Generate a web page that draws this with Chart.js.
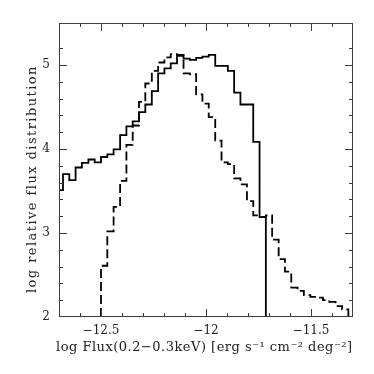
<!DOCTYPE html>
<html>
<head>
<meta charset="utf-8">
<script src="https://cdn.jsdelivr.net/npm/chart.js@4.4.1/dist/chart.umd.min.js"></script>
<style>
  html, body { margin: 0; padding: 0; background: #fff; }
  #wrap { width: 374px; height: 374px; }
</style>
</head>
<body>
<div id="wrap"><canvas id="chart" width="374" height="374"></canvas></div>
<script>
// bin edges in log flux, from the partly hidden first bin to the end of the dashed histogram
const binEdges = [
  -12.711, -12.681, -12.651, -12.621, -12.591, -12.560, -12.530,
  -12.500, -12.470, -12.440, -12.409, -12.379, -12.349, -12.319, -12.289,
  -12.258, -12.228, -12.198, -12.168, -12.138, -12.107, -12.077, -12.047,
  -12.017, -11.987, -11.956, -11.926, -11.896, -11.866, -11.836, -11.805,
  -11.775, -11.745, -11.715, -11.685, -11.654, -11.624, -11.594, -11.564,
  -11.534, -11.503, -11.473, -11.443, -11.413, -11.383, -11.352, -11.322
];

// solid histogram: bins starting at binEdges[0]
const solidValues = [
  3.51, 3.70, 3.63, 3.78, 3.835, 3.875, 3.84, 3.905, 3.935, 3.995,
  4.165, 4.27, 4.33, 4.44, 4.53, 4.69, 4.90, 4.96, 5.02, 5.11,
  5.075, 5.06, 5.085, 5.10, 5.12, 4.99, 4.99, 4.93, 4.67, 4.53,
  4.53, 4.085, 3.19
];

// dashed histogram: bins starting at binEdges[7] (-12.5)
const dashedStart = 7;
const dashedValues = [
  2.61, 3.02, 3.31, 3.62, 4.05, 4.28, 4.56, 4.78, 4.93, 5.03,
  5.09, 5.13, 5.12, 4.90, 4.89, 4.65, 4.54, 4.38, 4.10, 3.84,
  3.82, 3.65, 3.58, 3.38, 3.21, 3.19, 3.21, 2.92, 2.69, 2.54,
  2.35, 2.31, 2.26, 2.24, 2.23, 2.20, 2.18, 2.13, 2.09
];

const baseline = 2;
const xMajorLabels = [-12.5, -12, -11.5];
const yMajorLabels = [2, 3, 4, 5];
const xTitle = "log Flux(0.2\u22120.3keV) [erg s\u207B\u00B9 cm\u207B\u00B2 deg\u207B\u00B2]";
const yTitle = "log relative flux distribution";

function near(v, list) {
  return list.some((m) => Math.abs(v - m) < 1e-6);
}

function minus(v) {
  return String(v).replace("-", "\u2212");
}

const solidPoints = solidValues.map((v, i) => ({ x: binEdges[i], y: v }));
solidPoints.push({ x: binEdges[solidValues.length], y: baseline });

const dashedPoints = [{ x: binEdges[dashedStart], y: baseline }];
dashedValues.forEach((v, i) => dashedPoints.push({ x: binEdges[dashedStart + i], y: v }));
dashedPoints.push({ x: binEdges[dashedStart + dashedValues.length], y: baseline });

const serif = "'DejaVu Serif', serif";

// spaced-out text, stretched to a given width like the old plot fonts
function spacedText(ctx, text, cx, cy, width, angle) {
  ctx.save();
  ctx.font = "13px " + serif;
  ctx.fillStyle = "#222";
  ctx.textBaseline = "middle";
  ctx.textAlign = "left";
  const w0 = ctx.measureText(text).width;
  const gap = Math.max(0, (width - w0) / (text.length - 1));
  if ("letterSpacing" in ctx) ctx.letterSpacing = gap.toFixed(2) + "px";
  ctx.translate(cx, cy);
  ctx.rotate(angle);
  ctx.fillText(text, -width / 2, 0);
  ctx.restore();
}

// ticks drawn inward on all four sides, the frame, and the axis titles
const frameAndTicks = {
  id: "frameAndTicks",
  afterDraw(chart) {
    const { ctx, chartArea: a, scales } = chart;
    const x = scales.x, y = scales.y;
    ctx.save();
    ctx.strokeStyle = "#3c3c3c";
    ctx.lineWidth = 1;
    ctx.strokeRect(a.left + 0.5, a.top + 0.5, a.right - a.left - 1, a.bottom - a.top - 1);
    ctx.beginPath();
    x.ticks.forEach((t) => {
      const px = Math.round(x.getPixelForValue(t.value)) + 0.5;
      if (px <= a.left + 2 || px >= a.right - 2) return;
      const len = Math.abs(t.value * 2 - Math.round(t.value * 2)) < 1e-6 ? 8 : 4;
      ctx.moveTo(px, a.bottom); ctx.lineTo(px, a.bottom - len);
      ctx.moveTo(px, a.top); ctx.lineTo(px, a.top + len);
    });
    y.ticks.forEach((t) => {
      const py = Math.round(y.getPixelForValue(t.value)) + 0.5;
      if (py <= a.top + 2 || py >= a.bottom - 2) return;
      const len = Math.abs(t.value - Math.round(t.value)) < 1e-6 ? 8 : 4;
      ctx.moveTo(a.left, py); ctx.lineTo(a.left + len, py);
      ctx.moveTo(a.right, py); ctx.lineTo(a.right - len, py);
    });
    ctx.stroke();
    ctx.restore();

    spacedText(ctx, xTitle, 204, 348, 296, 0);
    spacedText(ctx, yTitle, 33, 180, 226, -Math.PI / 2);
  },
};

new Chart(document.getElementById("chart"), {
  type: "line",
  data: {
    datasets: [
      {
        label: "solid",
        data: solidPoints,
        stepped: "before",
        borderColor: "#000",
        borderWidth: 1.8,
        pointRadius: 0,
        fill: false,
      },
      {
        label: "dashed",
        data: dashedPoints,
        stepped: "before",
        borderColor: "#000",
        borderWidth: 1.8,
        borderDash: [9, 4],
        pointRadius: 0,
        fill: false,
      },
    ],
  },
  options: {
    responsive: false,
    animation: false,
    events: [],
    layout: { padding: { top: 23, right: 21, left: 0, bottom: 0 } },
    plugins: { legend: { display: false }, tooltip: { enabled: false } },
    scales: {
      x: {
        type: "linear",
        min: -12.7,
        max: -11.3,
        afterFit: (s) => { s.height = 57; },
        grid: { display: false, drawTicks: false, tickLength: 0 },
        border: { display: false },
        ticks: {
          stepSize: 0.1,
          autoSkip: false,
          maxRotation: 0,
          padding: 7,
          color: "#222",
          font: { family: serif, size: 12 },
          callback: (v) => (near(v, xMajorLabels) ? minus(Math.round(v * 10) / 10) : ""),
        },
        title: { display: false },
      },
      y: {
        type: "linear",
        min: 2,
        max: 5.5,
        afterFit: (s) => { s.width = 59; },
        grid: { display: false, drawTicks: false, tickLength: 0 },
        border: { display: false },
        ticks: {
          stepSize: 0.2,
          autoSkip: false,
          padding: 9,
          color: "#222",
          font: { family: serif, size: 12 },
          callback: (v) => (near(v, yMajorLabels) ? String(Math.round(v)) : ""),
        },
        title: { display: false },
      },
    },
  },
  plugins: [frameAndTicks],
});
</script>
</body>
</html>
